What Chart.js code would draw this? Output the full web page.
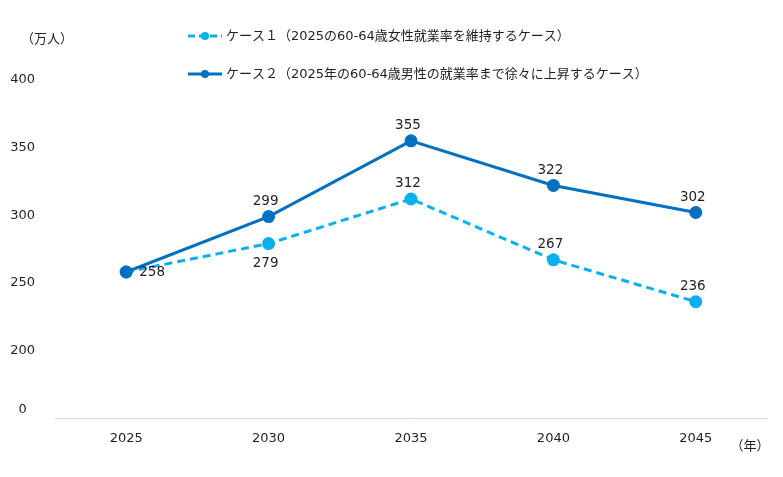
<!DOCTYPE html>
<html>
<head>
<meta charset="utf-8">
<script src="https://cdn.jsdelivr.net/npm/chart.js@4"></script>
<style>
  html, body { margin: 0; padding: 0; background: #fff; }
  #wrap { width: 783px; height: 477px; }
</style>
</head>
<body>
<div id="wrap"><canvas id="chart"></canvas></div>
<script>
// data
const years = ['2025', '2030', '2035', '2040', '2045'];
const case1Values = [258, 279, 312, 267, 236];
const case2Values = [258, 299, 355, 322, 302];
const case1Label = 'ケース１（2025の60-64歳女性就業率を維持するケース）';
const case2Label = 'ケース２（2025年の60-64歳男性の就業率まで徐々に上昇するケース）';
// axis is broken below 200, the "0" tick sits just above the axis line
const yTickValues = [156, 200, 250, 300, 350, 400];
const yTickLabels = ['0', '200', '250', '300', '350', '400'];
const case1LabelPos = ['none', 'bottom', 'top', 'top', 'top'];
const case2LabelPos = ['right', 'top', 'top', 'top', 'top'];

const FONT = '"DejaVu Sans", "Noto Sans CJK JP", sans-serif';
const C1 = '#0AB0EE';
const C2 = '#0070C0';
const TEXT = '#1f1f1f';

// data labels, legend and unit captions
const extras = {
  id: 'extras',
  afterDatasetsDraw(chart) {
    const ctx = chart.ctx;
    const positions = [case1LabelPos, case2LabelPos];
    ctx.save();
    ctx.fillStyle = TEXT;
    ctx.font = '13.5px ' + FONT;
    chart.data.datasets.forEach((ds, i) => {
      const meta = chart.getDatasetMeta(i);
      meta.data.forEach((pt, j) => {
        const pos = positions[i][j];
        const txt = String(ds.data[j]);
        if (pos === 'none') return;
        ctx.textBaseline = 'middle';
        if (pos === 'right') {
          ctx.textAlign = 'left';
          ctx.fillText(txt, pt.x + 13, pt.y + 1);
        } else if (pos === 'bottom') {
          ctx.textAlign = 'center';
          ctx.fillText(txt, pt.x - 3, pt.y + 20);
        } else {
          ctx.textAlign = 'center';
          ctx.fillText(txt, pt.x - 3, pt.y - 15);
        }
      });
    });

    // legend
    const rows = [
      { y: 36, color: C1, dash: [7, 4], text: case1Label },
      { y: 74, color: C2, dash: [], text: case2Label }
    ];
    rows.forEach(r => {
      ctx.strokeStyle = r.color;
      ctx.lineWidth = 3;
      ctx.setLineDash(r.dash);
      ctx.beginPath();
      ctx.moveTo(188, r.y);
      ctx.lineTo(222, r.y);
      ctx.stroke();
      ctx.setLineDash([]);
      ctx.fillStyle = r.color;
      ctx.beginPath();
      ctx.arc(205, r.y, 4, 0, Math.PI * 2);
      ctx.fill();
      ctx.fillStyle = TEXT;
      ctx.font = '13px ' + FONT;
      ctx.textAlign = 'left';
      ctx.textBaseline = 'middle';
      ctx.fillText(r.text, 226, r.y + 1);
    });

    // unit captions
    ctx.font = '13px ' + FONT;
    ctx.textAlign = 'center';
    ctx.fillText('（万人）', 47, 40);
    ctx.fillText('（年）', 750, 447);
    ctx.restore();
  }
};

new Chart(document.getElementById('chart'), {
  type: 'line',
  data: {
    labels: years,
    datasets: [
      {
        label: case1Label,
        data: case1Values,
        order: 1,
        borderColor: C1,
        backgroundColor: C1,
        borderWidth: 3,
        borderDash: [8, 5],
        pointRadius: 5,
        pointBackgroundColor: C1,
        pointBorderColor: C1,
        tension: 0
      },
      {
        label: case2Label,
        data: case2Values,
        order: 0,
        borderColor: C2,
        backgroundColor: C2,
        borderWidth: 3,
        pointRadius: 5,
        pointBackgroundColor: C2,
        pointBorderColor: C2,
        tension: 0
      }
    ]
  },
  options: {
    responsive: true,
    maintainAspectRatio: false,
    animation: false,
    layout: { padding: { top: 80, right: 16, bottom: 19, left: 0 } },
    plugins: {
      legend: { display: false },
      tooltip: { enabled: false }
    },
    scales: {
      x: {
        offset: true,
        grid: { display: false, drawTicks: false },
        border: { display: true, color: '#d9d9d9', width: 1 },
        ticks: { color: TEXT, font: { family: FONT, size: 13 }, padding: 13 },
        afterFit(scale) { scale.height = 40; }
      },
      y: {
        min: 150,
        max: 400,
        grid: { display: false, drawTicks: false },
        border: { display: false },
        afterBuildTicks(scale) {
          scale.ticks = yTickValues.map(v => ({ value: v }));
        },
        ticks: {
          color: TEXT,
          font: { family: FONT, size: 13 },
          crossAlign: 'center',
          padding: 20,
          callback(value) {
            const k = yTickValues.indexOf(value);
            return k >= 0 ? yTickLabels[k] : '';
          }
        },
        afterFit(scale) { scale.width = 55; }
      }
    }
  },
  plugins: [extras]
});
</script>
</body>
</html>
